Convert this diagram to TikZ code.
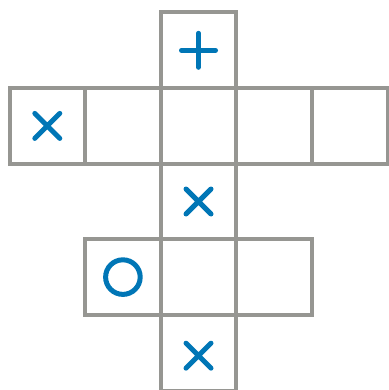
\documentclass[tikz,border=0pt]{standalone}
\definecolor{gridgray}{RGB}{150,150,146}
\definecolor{markblue}{RGB}{0,118,182}
\begin{document}
\begin{tikzpicture}[x=1pt,y=-1pt,
  cell/.style={draw=gridgray,line width=4pt,rectangle,minimum size=75.6pt,inner sep=0pt,outer sep=0pt},
  sym/.style={draw=markblue,line width=5pt,line cap=round}]
\useasboundingbox (0,0) rectangle (388,390);
\def\s{75.6}
\foreach \r/\c in {0/2,1/0,1/1,1/2,1/3,1/4,2/2,3/1,3/2,3/3,4/2}{
  \node[cell] (c\r\c) at ({9.5+\s*(\c+0.5)},{12.5+\s*(\r+0.5)}) {};
}
% plus
\draw[sym,shift={(c02)}] (-17,0) -- (17,0) (0,-17) -- (0,17);
% crosses
\draw[sym,shift={(c10)}] (-12.5,-12.5) -- (12.5,12.5) (-12.5,12.5) -- (12.5,-12.5);
\draw[sym,shift={(c22)}] (-12.5,-12.5) -- (12.5,12.5) (-12.5,12.5) -- (12.5,-12.5);
\draw[sym,shift={(c42)}] (-12.5,-9.5) -- (12.5,15.5) (-12.5,15.5) -- (12.5,-9.5);
% circle
\draw[sym,shift={(c31)}] (0,0) circle (17.3);
\end{tikzpicture}
\end{document}
